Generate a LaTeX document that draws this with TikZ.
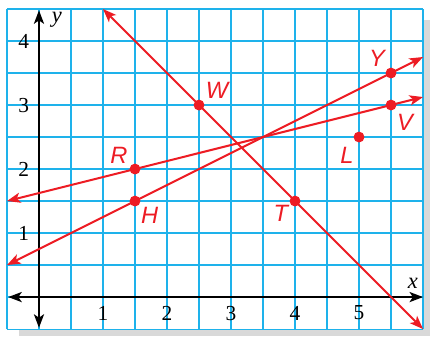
\documentclass[tikz,border=0pt]{standalone}
\usepackage{fontspec}
\setmainfont{Liberation Serif}
\newfontfamily\ptfont{Liberation Sans}
\usetikzlibrary{arrows.meta}
\definecolor{gridblue}{RGB}{30,178,235}
\definecolor{ptred}{RGB}{237,28,36}
\definecolor{shadowgray}{RGB}{217,217,217}
\begin{document}
\begin{tikzpicture}[
  gridline/.style={gridblue, line width=0.5pt},
  axis/.style={line width=0.9pt, {Stealth[length=6pt,width=4.5pt,inset=1.5pt]}-{Stealth[length=6pt,width=4.5pt,inset=1.5pt]}},
  redline/.style={ptred, line width=0.9pt, {Stealth[length=6pt,width=4.5pt,inset=1.5pt]}-{Stealth[length=6pt,width=4.5pt,inset=1.5pt]}},
  dot/.style={circle, fill=ptred, inner sep=0pt, minimum size=0.17cm},
  ptlabel/.style={text=ptred, font=\ptfont\itshape\fontsize{10.5}{12}\selectfont},
  num/.style={font=\fontsize{9.5}{11}\selectfont}
]
\useasboundingbox (-0.609,-0.609) rectangle (6.109,4.641);
\fill[shadowgray] (-0.31,-0.609) rectangle (6.109,4.33);
\fill[white] (-0.5,-0.5) rectangle (6,4.5);
\draw[gridline, step=0.5] (-0.5,-0.5) grid (6,4.5);
% axes
\coordinate (xl) at (-0.48,0);
\coordinate (xr) at (6,0);
\coordinate (yb) at (0,-0.48);
\coordinate (yt) at (0,4.48);
\draw[axis] (xl) -- (xr);
\draw[axis] (yb) -- (yt);
\node (xlab) at (5.84,0.22) {\textit{x}};
\node (ylab) at (0.28,4.33) {\textit{y}};
\foreach \n in {1,...,5} \node[num] (xn\n) at (\n,-0.25) {\n};
\foreach \n in {1,...,4} \node[num] (yn\n) at (-0.24,\n) {\n};
% lines
\coordinate (wt1) at (1,4.5);
\coordinate (wt2) at (6,-0.5);
\coordinate (rv1) at (-0.5,1.5);
\coordinate (rv2) at (6,3.125);
\coordinate (hy1) at (-0.5,0.5);
\coordinate (hy2) at (6,3.75);
\draw[redline] (wt1) -- (wt2);
\draw[redline] (rv1) -- (rv2);
\draw[redline] (hy1) -- (hy2);
% points
\node[dot] (W) at (2.5,3) {};
\node[dot] (R) at (1.5,2) {};
\node[dot] (H) at (1.5,1.5) {};
\node[dot] (T) at (4,1.5) {};
\node[dot] (Y) at (5.5,3.5) {};
\node[dot] (V) at (5.5,3) {};
\node[dot] (L) at (5,2.5) {};
\node[ptlabel] (Wlab) at (2.78,3.23) {W};
\node[ptlabel] (Rlab) at (1.25,2.22) {R};
\node[ptlabel] (Hlab) at (1.73,1.28) {H};
\node[ptlabel] (Tlab) at (3.78,1.31) {T};
\node[ptlabel] (Ylab) at (5.28,3.73) {Y};
\node[ptlabel] (Vlab) at (5.72,2.73) {V};
\node[ptlabel] (Llab) at (4.81,2.22) {L};
\end{tikzpicture}
\end{document}
